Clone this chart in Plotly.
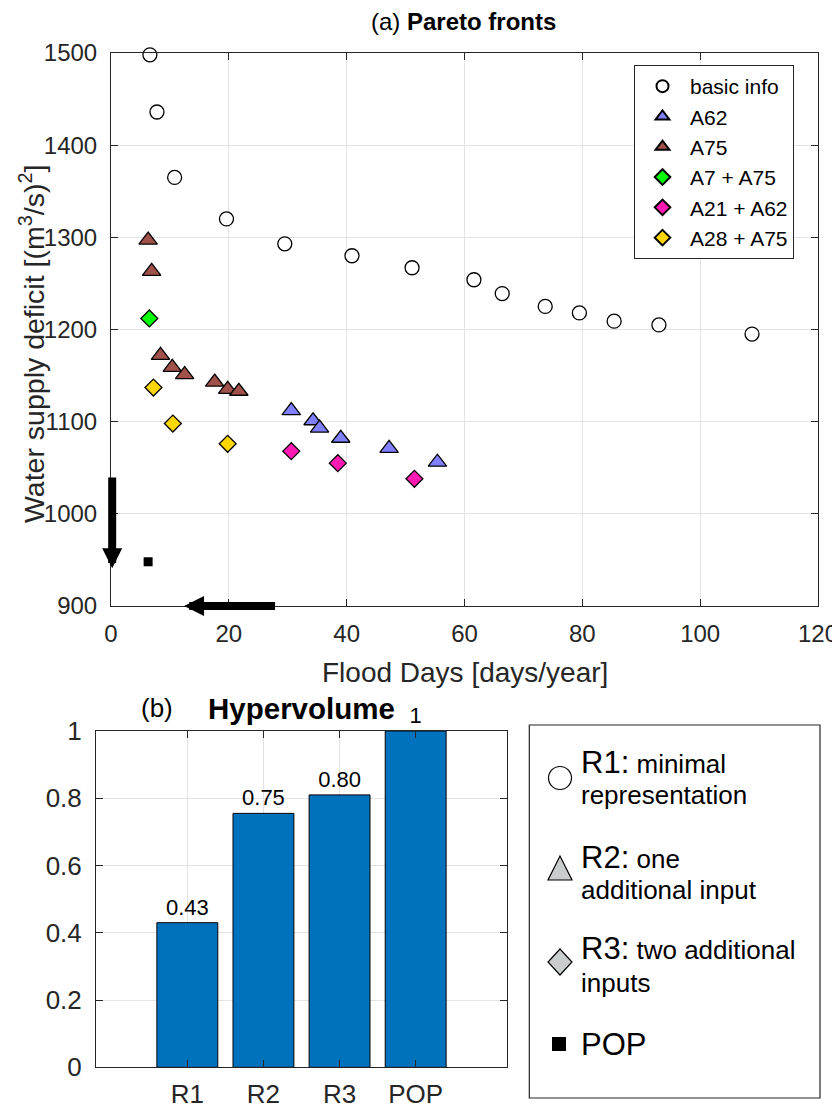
import plotly.graph_objects as go

# ---------------- data ----------------
basic_x = [6.6, 7.8, 10.8, 19.6, 29.5, 40.9, 51.1, 61.6, 66.4, 73.7, 79.5, 85.4, 93.0, 108.8]
basic_y = [1498, 1436, 1365, 1320, 1293, 1280, 1267, 1254, 1239, 1225, 1218, 1209, 1205, 1195]

a62_x = [30.6, 34.3, 35.4, 39.0, 47.2, 55.4]
a62_y = [1112, 1101, 1093, 1082, 1071, 1056]

a75_x = [6.3, 6.9, 8.4, 10.4, 12.5, 17.6, 19.8, 21.7]
a75_y = [1297, 1263, 1172, 1159, 1151, 1143, 1135, 1133]

a7_a75_x = [6.5]
a7_a75_y = [1212]

a21_a62_x = [30.6, 38.5, 51.5]
a21_a62_y = [1068, 1055, 1038]

a28_a75_x = [7.2, 10.5, 19.8]
a28_a75_y = [1137, 1098, 1076]

pop_x = [6.3]
pop_y = [948]

hv_cats = ["R1", "R2", "R3", "POP"]
hv_vals = [0.43, 0.755, 0.81, 1.0]
hv_labels = ["0.43", "0.75", "0.80", "1"]

# ---------------- helpers ----------------
# the page body has an 8px margin, so the figure is sized to fit the window
OFF = 8
FW, FH = 832, 1100


def px(x):
    return (x - OFF) / FW


def py(y):
    return 1 - (y - OFF) / FH


FONT = "Liberation Sans, Arial, Helvetica, sans-serif"
INK = "#262626"

fig = go.Figure()


def add_pts(x, y, name, symbol, color, size, legend=True, lw=1.3):
    fig.add_trace(go.Scatter(
        x=x, y=y, mode="markers", name=name, showlegend=legend,
        marker=dict(symbol=symbol, size=size, color=color,
                    line=dict(color="black", width=lw)),
        cliponaxis=False, xaxis="x", yaxis="y"))


add_pts(basic_x, basic_y, "basic info", "circle", "white", 14)
add_pts(a62_x, a62_y, "A62", "triangle-up", "#8080FF", 16)
add_pts(a75_x, a75_y, "A75", "triangle-up", "#A0524A", 16)
add_pts(a7_a75_x, a7_a75_y, "A7 + A75", "diamond", "#00FF00", 13)
add_pts(a21_a62_x, a21_a62_y, "A21 + A62", "diamond", "#FF1AB4", 13)
add_pts(a28_a75_x, a28_a75_y, "A28 + A75", "diamond", "#FFD700", 13)
add_pts(pop_x, pop_y, "POP", "square", "black", 9, legend=False, lw=0)

fig.add_trace(go.Bar(
    x=hv_cats, y=hv_vals, text=hv_labels, textposition="outside",
    cliponaxis=False, width=0.8,
    marker=dict(color="#0072BD", line=dict(color="black", width=1)),
    textfont=dict(family=FONT, size=22, color="black"),
    xaxis="x2", yaxis="y2", showlegend=False))


def axis(fs, **kw):
    d = dict(showline=True, linecolor=INK, linewidth=1, mirror="ticks",
             ticks="inside", ticklen=7, tickcolor=INK, tickwidth=1,
             showgrid=True, gridcolor="#e3e3e3", gridwidth=1, zeroline=False,
             tickfont=dict(family=FONT, size=fs, color=INK), automargin=False)
    d.update(kw)
    return d


annotations = [
    dict(text="(a) <b>Pareto fronts</b>", x=px(463), y=py(22), xref="paper", yref="paper",
         showarrow=False, xanchor="center", yanchor="middle",
         font=dict(family=FONT, size=24, color="black")),
    dict(text="Flood Days [days/year]", x=px(464.5), y=py(672), xref="paper", yref="paper",
         showarrow=False, xanchor="center", yanchor="middle",
         font=dict(family=FONT, size=28, color=INK)),
    dict(text="Water supply deficit [(m<sup>3</sup>/s)<sup>2</sup>]", x=px(32), y=py(344),
         xref="paper", yref="paper", showarrow=False, textangle=-90,
         xanchor="center", yanchor="middle",
         font=dict(family=FONT, size=28.5, color=INK)),
    dict(text="(b)", x=px(157), y=py(708), xref="paper", yref="paper",
         showarrow=False, xanchor="center", yanchor="middle",
         font=dict(family=FONT, size=26, color="black")),
    dict(text="<b>Hypervolume</b>", x=px(301.5), y=py(708), xref="paper", yref="paper",
         showarrow=False, xanchor="center", yanchor="middle",
         font=dict(family=FONT, size=29.5, color="black")),
    # arrows pointing toward the ideal point
    dict(text="", x=0.2, y=941, ax=0.2, ay=1041, xref="x", yref="y", axref="x", ayref="y",
         showarrow=True, arrowhead=2, arrowwidth=8, arrowsize=0.5, arrowcolor="black"),
    dict(text="", x=12.4, y=900, ax=28.1, ay=900, xref="x", yref="y", axref="x", ayref="y",
         showarrow=True, arrowhead=2, arrowwidth=8, arrowsize=0.5, arrowcolor="black"),
]

BIG = "<span style='font-size:31px'>{}</span>"
leg_lines = [
    (BIG.format("R1:") + " minimal", 762), ("representation", 795),
    (BIG.format("R2:") + " one", 857), ("additional input", 890),
    (BIG.format("R3:") + " two additional", 948), ("inputs", 983),
    (BIG.format("POP"), 1044),
]
for txt, yy in leg_lines:
    annotations.append(dict(text=txt, x=px(579), y=py(yy), xref="paper", yref="paper",
                            showarrow=False, xanchor="left", yanchor="middle",
                            font=dict(family=FONT, size=26, color="black")))


def pth(points):
    return "M " + " L ".join(f"{px(a):.5f},{py(b):.5f}" for a, b in points) + " Z"


GREY = "#C9CDCD"
shapes = [
    dict(type="rect", xref="paper", yref="paper", x0=px(529.3), x1=px(820), y0=py(1098), y1=py(725),
         line=dict(color=INK, width=1.2), fillcolor="rgba(0,0,0,0)"),
    dict(type="circle", xref="paper", yref="paper", x0=px(548.5), x1=px(571.5), y0=py(789.5), y1=py(766.5),
         line=dict(color="black", width=1.2), fillcolor="white"),
    dict(type="path", xref="paper", yref="paper", path=pth([(548, 880), (572, 880), (560, 856)]),
         line=dict(color="black", width=1.2), fillcolor=GREY),
    dict(type="path", xref="paper", yref="paper", path=pth([(560, 949), (572, 962), (560, 975), (548, 962)]),
         line=dict(color="black", width=1.2), fillcolor=GREY),
    dict(type="rect", xref="paper", yref="paper", x0=px(552), x1=px(566), y0=py(1051), y1=py(1037),
         line=dict(color="black", width=0), fillcolor="black"),
]

fig.update_layout(
    width=FW, height=FH, margin=dict(l=0, r=0, t=0, b=0),
    paper_bgcolor="white", plot_bgcolor="white",
    font=dict(family=FONT, color=INK),
    xaxis=axis(24, domain=[px(111), px(818)], range=[0, 120], dtick=20, tick0=0,
               anchor="y", ticklabelstandoff=6),
    yaxis=axis(24, domain=[py(606), py(53)], range=[900, 1500], dtick=100, tick0=900,
               anchor="x", ticklabelstandoff=8),
    xaxis2=axis(26, domain=[px(96), px(507)], type="category", categoryorder="array",
                categoryarray=hv_cats, range=[-1.2, 4.2], anchor="y2", ticklabelstandoff=3),
    yaxis2=axis(26, domain=[py(1067.3), py(731)], range=[0, 1], dtick=0.2, tick0=0,
                anchor="x2", ticklabelstandoff=8),
    legend=dict(x=px(634), y=py(65), xanchor="left", yanchor="top", bgcolor="white",
                bordercolor=INK, borderwidth=1, itemsizing="constant", itemwidth=45,
                font=dict(family=FONT, size=21, color="black"), tracegroupgap=0),
    annotations=annotations,
    shapes=shapes,
)

fig.write_html("out.html")
